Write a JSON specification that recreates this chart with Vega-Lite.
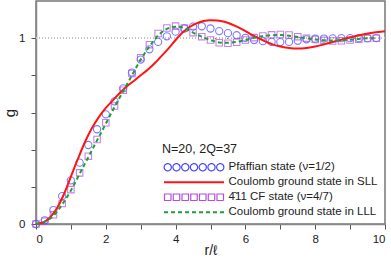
{
  "$schema": "https://vega.github.io/schema/vega-lite/v6.json",
  "width": 349,
  "height": 223,
  "autosize": "none",
  "padding": {"left": 36, "top": 1, "right": 6, "bottom": 34},
  "background": "white",
  "config": {
    "font": "Liberation Sans",
    "view": {"stroke": "#777", "strokeWidth": 1.5},
    "axis": {"labelFontSize": 11.5, "labelColor": "#222", "domainColor": "#888", "domainWidth": 1.5, "tickColor": "#555", "tickSize": 5, "titleFontWeight": "normal", "titleColor": "#222", "grid": false}
  },
  "datasets": {
    "pts": [
      {"s":"pf","r":0,"g":0},{"s":"pf","r":0.25,"g":0.02},{"s":"pf","r":0.5,"g":0.075},{"s":"pf","r":0.75,"g":0.15},{"s":"pf","r":1.0,"g":0.235},{"s":"pf","r":1.25,"g":0.33},{"s":"pf","r":1.5,"g":0.425},{"s":"pf","r":1.75,"g":0.51},{"s":"pf","r":2.0,"g":0.59},{"s":"pf","r":2.25,"g":0.66},{"s":"pf","r":2.5,"g":0.73},{"s":"pf","r":2.75,"g":0.815},{"s":"pf","r":3.0,"g":0.885},{"s":"pf","r":3.25,"g":0.94},{"s":"pf","r":3.5,"g":0.98},{"s":"pf","r":3.75,"g":1.01},{"s":"pf","r":4.0,"g":1.035},{"s":"pf","r":4.25,"g":1.052},{"s":"pf","r":4.5,"g":1.062},{"s":"pf","r":4.75,"g":1.064},{"s":"pf","r":5.0,"g":1.052},{"s":"pf","r":5.25,"g":1.038},{"s":"pf","r":5.5,"g":1.027},{"s":"pf","r":5.75,"g":1.016},{"s":"pf","r":6.0,"g":1.002},{"s":"pf","r":6.25,"g":0.99},{"s":"pf","r":6.5,"g":0.984},{"s":"pf","r":6.75,"g":0.98},{"s":"pf","r":7.0,"g":0.979},{"s":"pf","r":7.25,"g":0.98},{"s":"pf","r":7.5,"g":0.986},{"s":"pf","r":7.75,"g":0.994},{"s":"pf","r":8.0,"g":0.997},{"s":"pf","r":8.25,"g":0.998},{"s":"pf","r":8.5,"g":0.999},{"s":"pf","r":8.75,"g":1.0},{"s":"pf","r":9.0,"g":1.0},{"s":"pf","r":9.25,"g":1.0},{"s":"pf","r":9.5,"g":1.0},{"s":"pf","r":9.75,"g":1.0},
      {"s":"sll","r":0,"g":0},{"s":"sll","r":0.2,"g":0.008},{"s":"sll","r":0.4,"g":0.035},{"s":"sll","r":0.6,"g":0.085},{"s":"sll","r":0.8,"g":0.16},{"s":"sll","r":1.0,"g":0.255},{"s":"sll","r":1.2,"g":0.35},{"s":"sll","r":1.4,"g":0.44},{"s":"sll","r":1.6,"g":0.515},{"s":"sll","r":1.8,"g":0.575},{"s":"sll","r":2.0,"g":0.625},{"s":"sll","r":2.2,"g":0.665},{"s":"sll","r":2.4,"g":0.705},{"s":"sll","r":2.6,"g":0.74},{"s":"sll","r":2.8,"g":0.77},{"s":"sll","r":3.0,"g":0.8},{"s":"sll","r":3.2,"g":0.83},{"s":"sll","r":3.4,"g":0.865},{"s":"sll","r":3.6,"g":0.905},{"s":"sll","r":3.8,"g":0.945},{"s":"sll","r":4.0,"g":0.99},{"s":"sll","r":4.2,"g":1.03},{"s":"sll","r":4.4,"g":1.06},{"s":"sll","r":4.6,"g":1.08},{"s":"sll","r":4.8,"g":1.092},{"s":"sll","r":5.0,"g":1.096},{"s":"sll","r":5.2,"g":1.095},{"s":"sll","r":5.4,"g":1.088},{"s":"sll","r":5.6,"g":1.075},{"s":"sll","r":5.8,"g":1.058},{"s":"sll","r":6.0,"g":1.038},{"s":"sll","r":6.2,"g":1.017},{"s":"sll","r":6.4,"g":0.997},{"s":"sll","r":6.6,"g":0.98},{"s":"sll","r":6.8,"g":0.965},{"s":"sll","r":7.0,"g":0.955},{"s":"sll","r":7.2,"g":0.948},{"s":"sll","r":7.4,"g":0.945},{"s":"sll","r":7.6,"g":0.945},{"s":"sll","r":7.8,"g":0.948},{"s":"sll","r":8.0,"g":0.955},{"s":"sll","r":8.2,"g":0.964},{"s":"sll","r":8.4,"g":0.974},{"s":"sll","r":8.6,"g":0.984},{"s":"sll","r":8.8,"g":0.994},{"s":"sll","r":9.0,"g":1.004},{"s":"sll","r":9.2,"g":1.013},{"s":"sll","r":9.4,"g":1.021},{"s":"sll","r":9.6,"g":1.028},{"s":"sll","r":9.8,"g":1.033},{"s":"sll","r":10.0,"g":1.037},
      {"s":"cf","r":0,"g":0},{"s":"cf","r":0.25,"g":0.015},{"s":"cf","r":0.5,"g":0.05},{"s":"cf","r":0.75,"g":0.11},{"s":"cf","r":1.0,"g":0.185},{"s":"cf","r":1.25,"g":0.275},{"s":"cf","r":1.5,"g":0.365},{"s":"cf","r":1.75,"g":0.455},{"s":"cf","r":2.0,"g":0.545},{"s":"cf","r":2.25,"g":0.635},{"s":"cf","r":2.5,"g":0.72},{"s":"cf","r":2.75,"g":0.81},{"s":"cf","r":3.0,"g":0.895},{"s":"cf","r":3.25,"g":0.965},{"s":"cf","r":3.5,"g":1.025},{"s":"cf","r":3.75,"g":1.055},{"s":"cf","r":4.0,"g":1.065},{"s":"cf","r":4.25,"g":1.055},{"s":"cf","r":4.5,"g":1.03},{"s":"cf","r":4.75,"g":1.008},{"s":"cf","r":5.0,"g":0.99},{"s":"cf","r":5.25,"g":0.975},{"s":"cf","r":5.5,"g":0.973},{"s":"cf","r":5.75,"g":0.978},{"s":"cf","r":6.0,"g":0.99},{"s":"cf","r":6.25,"g":1.003},{"s":"cf","r":6.5,"g":1.012},{"s":"cf","r":6.75,"g":1.018},{"s":"cf","r":7.0,"g":1.02},{"s":"cf","r":7.25,"g":1.017},{"s":"cf","r":7.5,"g":1.008},{"s":"cf","r":7.75,"g":1.0},{"s":"cf","r":8.0,"g":0.993},{"s":"cf","r":8.25,"g":0.988},{"s":"cf","r":8.5,"g":0.985},{"s":"cf","r":8.75,"g":0.986},{"s":"cf","r":9.0,"g":0.99},{"s":"cf","r":9.25,"g":0.995},{"s":"cf","r":9.5,"g":0.998},{"s":"cf","r":9.75,"g":1.0},
      {"s":"lll","r":0,"g":0},{"s":"lll","r":0.25,"g":0.012},{"s":"lll","r":0.5,"g":0.045},{"s":"lll","r":0.75,"g":0.105},{"s":"lll","r":1.0,"g":0.18},{"s":"lll","r":1.25,"g":0.27},{"s":"lll","r":1.5,"g":0.36},{"s":"lll","r":1.75,"g":0.45},{"s":"lll","r":2.0,"g":0.54},{"s":"lll","r":2.25,"g":0.63},{"s":"lll","r":2.5,"g":0.715},{"s":"lll","r":2.75,"g":0.8},{"s":"lll","r":3.0,"g":0.885},{"s":"lll","r":3.25,"g":0.955},{"s":"lll","r":3.5,"g":1.015},{"s":"lll","r":3.75,"g":1.05},{"s":"lll","r":4.0,"g":1.062},{"s":"lll","r":4.25,"g":1.055},{"s":"lll","r":4.5,"g":1.03},{"s":"lll","r":4.75,"g":1.008},{"s":"lll","r":5.0,"g":0.99},{"s":"lll","r":5.25,"g":0.977},{"s":"lll","r":5.5,"g":0.975},{"s":"lll","r":5.75,"g":0.98},{"s":"lll","r":6.0,"g":0.99},{"s":"lll","r":6.25,"g":1.002},{"s":"lll","r":6.5,"g":1.011},{"s":"lll","r":6.75,"g":1.016},{"s":"lll","r":7.0,"g":1.017},{"s":"lll","r":7.25,"g":1.013},{"s":"lll","r":7.5,"g":1.006},{"s":"lll","r":7.75,"g":0.999},{"s":"lll","r":8.0,"g":0.993},{"s":"lll","r":8.25,"g":0.989},{"s":"lll","r":8.5,"g":0.987},{"s":"lll","r":8.75,"g":0.988},{"s":"lll","r":9.0,"g":0.992},{"s":"lll","r":9.25,"g":0.996},{"s":"lll","r":9.5,"g":0.999},{"s":"lll","r":9.75,"g":1.0}
    ]
  },
  "data": {"name": "pts"},
  "encoding": {
    "x": {"field": "r", "type": "quantitative", "scale": {"domain": [0, 10], "nice": false},
      "axis": {"title": "r/ℓ", "titleFontSize": 14, "titlePadding": -1, "values": [0,1,2,3,4,5,6,7,8,9,10], "labelExpr": "datum.value % 2 == 0 ? datum.label : ''", "labelPadding": 4}},
    "y": {"field": "g", "type": "quantitative", "scale": {"domain": [0, 1.2], "nice": false, "zero": true},
      "axis": {"title": "g", "titleFontSize": 15, "titlePadding": 1, "values": [0,0.2,0.4,0.6,0.8,1.0], "labelExpr": "datum.value == 0 ? '0' : datum.value == 1 ? '1' : ''", "labelPadding": 6}},
    "color": {"field": "s", "type": "nominal",
      "scale": {"domain": ["pf","sll","cf","lll"], "range": ["#4646ff","#ff1414","#b04ee0","#1f9e35"]},
      "legend": {
        "title": "N=20, 2Q=37", "titleFontSize": 12.5, "titleFontWeight": "normal", "titleColor": "#222", "titlePadding": 6,
        "orient": "none", "legendX": 126, "legendY": 142, "padding": 0,
        "labelFontSize": 11.5, "labelColor": "#222", "labelOffset": 55, "rowPadding": 2,
        "symbolSize": 100, "symbolStrokeWidth": 1.2,
        "labelExpr": "datum.value == 'pf' ? 'Pfaffian state (ν=1/2)' : datum.value == 'sll' ? 'Coulomb ground state in SLL' : datum.value == 'cf' ? '4̄11 CF state (ν=4/7)' : 'Coulomb ground state in LLL'",
        "encode": {"symbols": {"update": {
          "shape": {"signal": "datum.value == 'pf' ? 'M-0.72,0a0.72,0.72 0 1,0 1.44,0a0.72,0.72 0 1,0 -1.44,0M1.03,0a0.72,0.72 0 1,0 1.44,0a0.72,0.72 0 1,0 -1.44,0M2.78,0a0.72,0.72 0 1,0 1.44,0a0.72,0.72 0 1,0 -1.44,0M4.53,0a0.72,0.72 0 1,0 1.44,0a0.72,0.72 0 1,0 -1.44,0M6.28,0a0.72,0.72 0 1,0 1.44,0a0.72,0.72 0 1,0 -1.44,0M8.03,0a0.72,0.72 0 1,0 1.44,0a0.72,0.72 0 1,0 -1.44,0M9.78,0a0.72,0.72 0 1,0 1.44,0a0.72,0.72 0 1,0 -1.44,0' : datum.value == 'cf' ? 'M-0.65,-0.65l1.3,0l0,1.3l-1.3,0zM1.1,-0.65l1.3,0l0,1.3l-1.3,0zM2.85,-0.65l1.3,0l0,1.3l-1.3,0zM4.6,-0.65l1.3,0l0,1.3l-1.3,0zM6.35,-0.65l1.3,0l0,1.3l-1.3,0zM8.1,-0.65l1.3,0l0,1.3l-1.3,0zM9.85,-0.65l1.3,0l0,1.3l-1.3,0z' : 'M-0.75,0L11.25,0'"},
          "fill": {"value": "transparent"},
          "strokeWidth": {"signal": "datum.value == 'sll' || datum.value == 'lll' ? 2.2 : 1.2"},
          "strokeDash": {"signal": "datum.value == 'lll' ? [4,3] : [1,0]"}
        }}}
      }}
  },
  "layer": [
    {"mark": {"type": "rule", "strokeDash": [1,2], "strokeWidth": 0.8}, "encoding": {"y": {"datum": 1}, "x": {"value": 0}, "x2": {"value": 349}, "color": {"value": "#c4c4c4"}}},
    {"transform": [{"filter": "datum.s == 'pf'"}], "mark": {"type": "point", "shape": "circle", "filled": false, "size": 52, "strokeWidth": 1.1}},
    {"transform": [{"filter": "datum.s == 'cf'"}], "mark": {"type": "point", "shape": "square", "filled": false, "size": 42, "strokeWidth": 1.1}},
    {"transform": [{"filter": "datum.s == 'sll'"}], "mark": {"type": "line", "strokeWidth": 2, "interpolate": "monotone"}},
    {"transform": [{"filter": "datum.s == 'lll'"}], "mark": {"type": "line", "strokeWidth": 2, "strokeDash": [4,3], "interpolate": "monotone"}}
  ]
}
